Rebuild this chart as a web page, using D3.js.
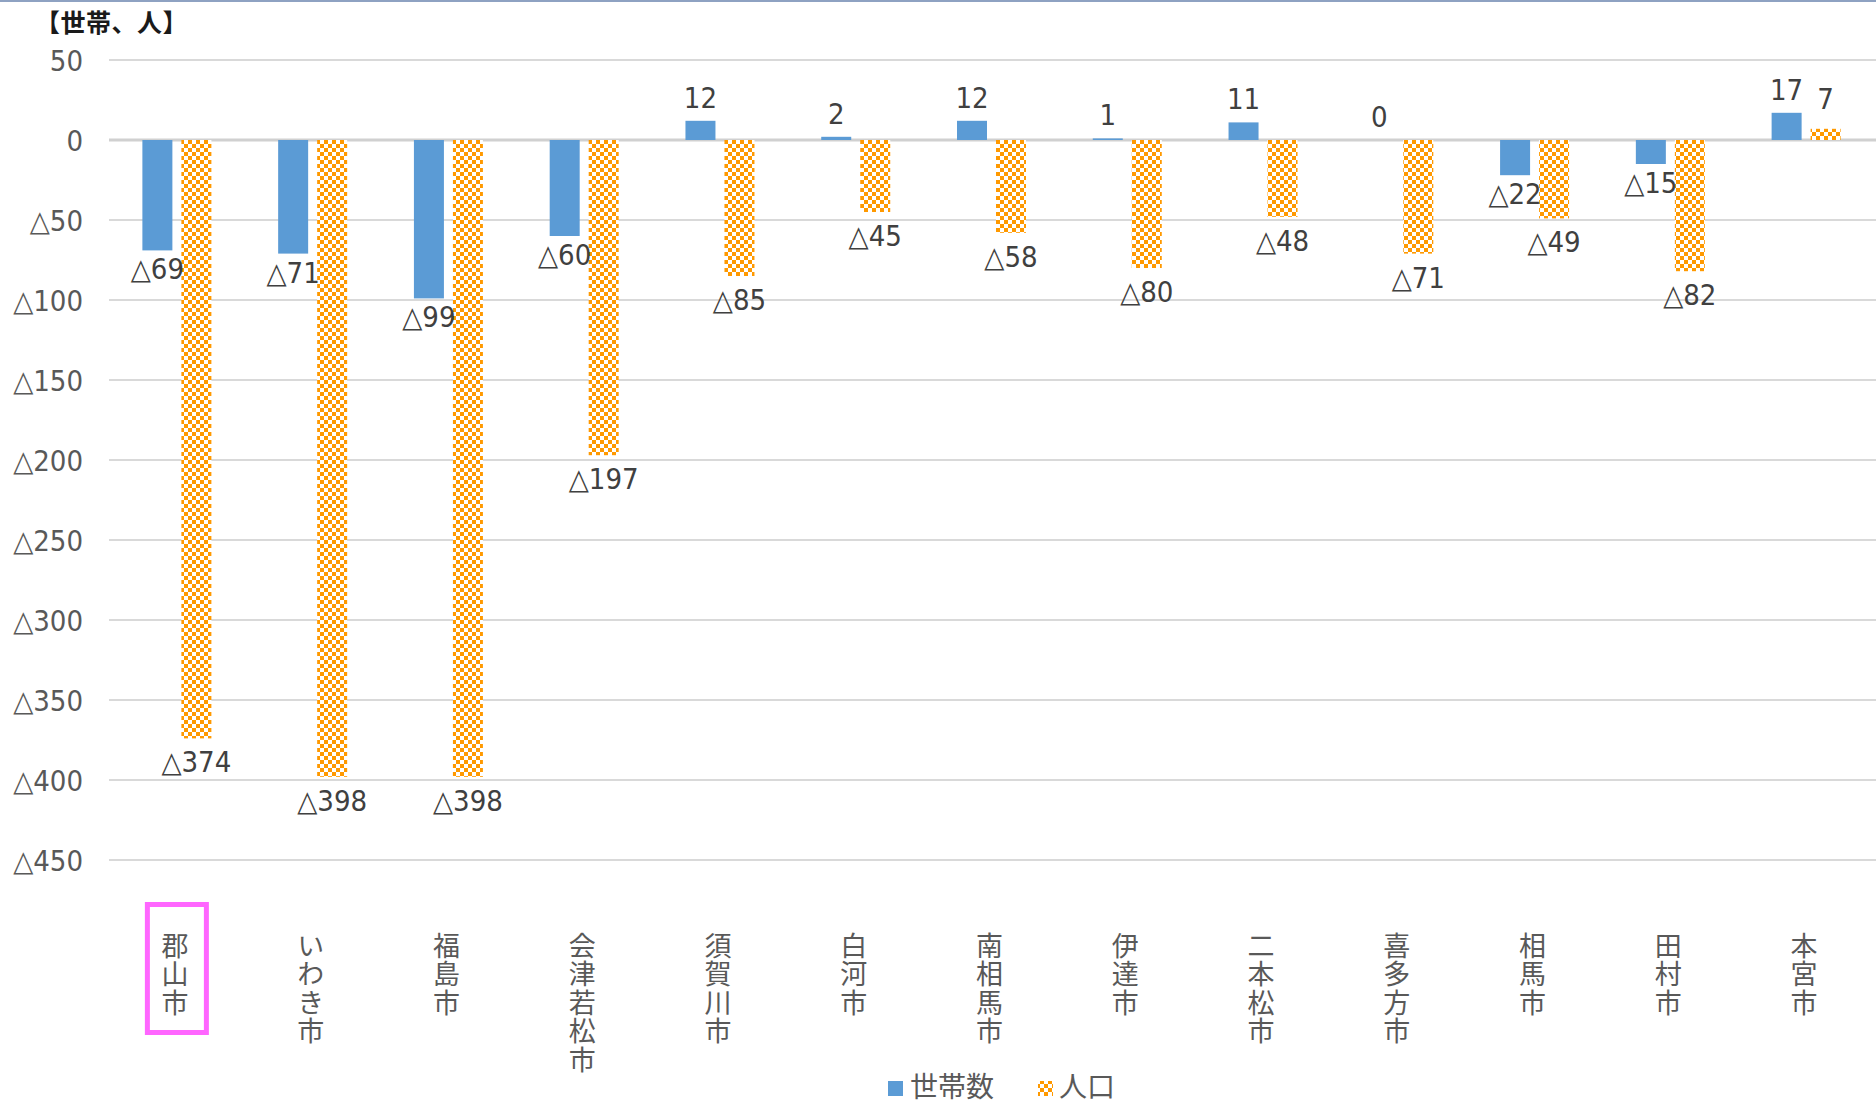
<!DOCTYPE html>
<html><head><meta charset="utf-8">
<script src="https://cdn.jsdelivr.net/npm/d3@7"></script>
<style>
html,body{margin:0;padding:0;background:#fff;}
svg{display:block;}
</style></head>
<body>
<script>
const categories = ["郡山市","いわき市","福島市","会津若松市","須賀川市","白河市","南相馬市","伊達市","二本松市","喜多方市","相馬市","田村市","本宮市"];
const households = [-69,-71,-99,-60,12,2,12,1,11,0,-22,-15,17];
const population = [-374,-398,-398,-197,-85,-45,-58,-80,-48,-71,-49,-82,7];
const yTicks = [50,0,-50,-100,-150,-200,-250,-300,-350,-400,-450];
const seriesNames = ["世帯数","人口"];
const axisTitle = "【世帯、人】";

const W = 1876, H = 1105;
const numFont = '"DejaVu Sans","Noto Sans CJK JP",sans-serif';
const cjkFont = '"Noto Sans CJK JP","Noto Sans",sans-serif';
const fmt = v => v < 0 ? "△" + Math.abs(v) : String(v);

const svg = d3.select("body").append("svg").attr("width", W).attr("height", H);
const defs = svg.append("defs");
const pat = defs.append("pattern").attr("id","checker").attr("patternUnits","userSpaceOnUse")
  .attr("width",8).attr("height",8);
pat.append("rect").attr("width",8).attr("height",8).attr("fill","#fff");
pat.append("rect").attr("width",4).attr("height",4).attr("fill","#ff9900");
pat.append("rect").attr("x",4).attr("y",4).attr("width",4).attr("height",4).attr("fill","#ff9900");

// top border
svg.append("rect").attr("x",0).attr("y",0).attr("width",W).attr("height",2).attr("fill","#8ea2c2");

const x = d3.scaleBand().domain(categories).range([109, 1874]).paddingInner(0).paddingOuter(0);
const y = d3.scaleLinear().domain([-450, 50]).range([860, 60]);
const barW = 30, gap = 9;

// gridlines
const grid = svg.append("g");
grid.selectAll("line").data(yTicks).join("line")
  .attr("x1", 109).attr("x2", 1876)
  .attr("y1", d => y(d)).attr("y2", d => y(d))
  .attr("stroke", d => d === 0 ? "#d0d0d0" : "#d9d9d9")
  .attr("stroke-width", d => d === 0 ? 3 : 2);

// y axis labels
const yAxis = d3.axisLeft(y).tickValues(yTicks).tickFormat(fmt).tickSize(0).tickPadding(0);
const ga = svg.append("g").attr("transform","translate(83,0)").call(yAxis);
ga.select(".domain").remove();
ga.selectAll("text").attr("font-family", numFont).attr("font-size", 29)
  .style("font-stretch","condensed").attr("fill","#595959")
  .attr("dy","0.36em");

// axis title
svg.append("text").attr("x", 35).attr("y", 32).text(axisTitle)
  .attr("font-family", cjkFont).attr("font-size", 25).style("letter-spacing","0.5px")
  .attr("font-weight","bold").attr("fill","#1a1a1a");

const cx = c => x(c) + x.bandwidth()/2;

// blue bars
svg.append("g").selectAll("rect").data(categories).join("rect")
  .attr("x", (c) => cx(c) - gap/2 - barW)
  .attr("width", barW)
  .attr("y", (c,i) => Math.min(y(households[i]), y(0)))
  .attr("height", (c,i) => Math.abs(y(households[i]) - y(0)))
  .attr("fill", "#5b9bd5");

// orange bars
svg.append("g").selectAll("rect").data(categories).join("rect")
  .attr("x", (c) => cx(c) + gap/2)
  .attr("width", barW)
  .attr("y", (c,i) => Math.min(y(population[i]), y(0)))
  .attr("height", (c,i) => Math.abs(y(population[i]) - y(0)))
  .attr("fill", "url(#checker)");

function labels(vals, dx, negOff, posOff) {
  svg.append("g").selectAll("text").data(categories).join("text")
    .attr("x", c => cx(c) + dx)
    .attr("y", (c,i) => vals[i] < 0 ? y(vals[i]) + negOff : y(vals[i]) - posOff)
    .attr("text-anchor","middle")
    .attr("font-family", numFont).attr("font-size", 29).style("font-stretch","condensed")
    .attr("fill","#404040")
    .text((c,i) => fmt(vals[i]));
}
labels(households, -gap/2 - barW/2, 29, 13);
labels(population, gap/2 + barW/2, 34, 20);

// vertical category labels
svg.append("g").selectAll("text").data(categories).join("text")
  .attr("x", c => cx(c) - 2).attr("y", 932)
  .style("writing-mode","vertical-rl")
  .style("letter-spacing","1.5px")
  .attr("font-family", cjkFont).attr("font-size", 27).attr("fill","#595959")
  .text(c => c);

// highlight box around first category
const c0 = categories[0];
svg.append("rect").attr("x", cx(c0) - 29.5).attr("y", 904.5).attr("width", 59).attr("height", 128)
  .attr("fill","none").attr("stroke","#ff66ff").attr("stroke-width",5);

// legend
const lg = svg.append("g");
lg.append("rect").attr("x",888).attr("y",1081).attr("width",15).attr("height",15).attr("fill","#5b9bd5");
lg.append("text").attr("x",910).attr("y",1085).attr("dominant-baseline","central")
  .attr("font-family",cjkFont).attr("font-size",28).attr("fill","#595959").text(seriesNames[0]);
lg.append("rect").attr("x",1038).attr("y",1081).attr("width",15).attr("height",15).attr("fill","url(#checker)");
lg.append("text").attr("x",1059).attr("y",1085).attr("dominant-baseline","central")
  .attr("font-family",cjkFont).attr("font-size",28).attr("fill","#595959").text(seriesNames[1]);
</script>
</body></html>
